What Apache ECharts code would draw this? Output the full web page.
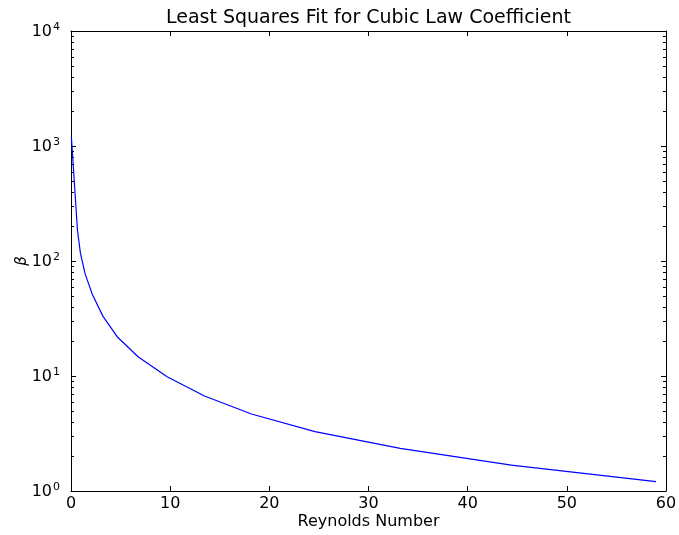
<!DOCTYPE html>
<html>
<head>
<meta charset="utf-8">
<script src="https://cdn.jsdelivr.net/npm/echarts@6/dist/echarts.min.js"></script>
<style>
  html, body { margin: 0; padding: 0; background: #fff; }
  #chart { width: 679px; height: 535px; }
</style>
</head>
<body>
<div id="chart"></div>
<script>
// Fitted cubic-law coefficient beta against Reynolds number
const reynolds = [0.04, 0.65, 0.95, 1.41, 2.12, 3.23, 4.71, 6.76, 9.69, 13.46, 18.2, 24.6, 33.2, 44.4, 59.0];
const beta     = [1191, 186, 117, 78, 52, 33, 21.7, 14.7, 9.86, 6.70, 4.67, 3.28, 2.35, 1.68, 1.205];

const xTicks = [0, 10, 20, 30, 40, 50, 60];
const yTicks = [1, 10, 100, 1000, 10000];
const yMinorTicks = [];
for (let d = 0; d < yTicks.length - 1; d++) {
  for (let m = 2; m <= 9; m++) yMinorTicks.push(m * yTicks[d]);
}

const titleText = 'Least Squares Fit for Cubic Law Coefficient';
const xName = 'Reynolds Number';
const yName = 'β';

const FONT = 'DejaVu Sans';
const chart = echarts.init(document.getElementById('chart'), null, { renderer: 'canvas' });

const grid = { left: 71, top: 31, right: 13, bottom: 44, containLabel: false, outerBoundsMode: 'none' };
const MAJOR = 5, MINOR = 3;

function frameAxisY(pos, extra) {
  return Object.assign({
    type: 'log', logBase: 10, min: 1, max: 10000, position: pos,
    axisLine: { show: true, onZero: false, lineStyle: { color: '#000', width: 1 } },
    axisTick: { show: true, inside: true, length: MAJOR, lineStyle: { color: '#000' }, customValues: yTicks },
    axisLabel: { show: false },
    splitLine: { show: false }
  }, extra);
}

const option = {
  animation: false,
  backgroundColor: '#fff',
  grid: grid,
  xAxis: [{
    type: 'value', min: 0, max: 60, interval: 10, position: 'bottom',
    name: xName, nameLocation: 'middle', nameGap: 23, nameMoveOverlap: false,
    nameTextStyle: { fontFamily: FONT, fontSize: 16, color: '#000' },
    axisLine: { show: true, onZero: false, lineStyle: { color: '#000', width: 1 } },
    axisTick: { show: true, inside: true, length: MAJOR, lineStyle: { color: '#000' }, customValues: xTicks },
    axisLabel: { show: true, margin: 5, fontFamily: FONT, fontSize: 16, color: '#000', customValues: xTicks },
    splitLine: { show: false }
  }, {
    type: 'value', min: 0, max: 60, interval: 10, position: 'top',
    axisLine: { show: true, onZero: false, lineStyle: { color: '#000', width: 1 } },
    axisTick: { show: true, inside: true, length: MAJOR, lineStyle: { color: '#000' }, customValues: xTicks },
    axisLabel: { show: false },
    splitLine: { show: false }
  }],
  yAxis: [
    frameAxisY('left', {
      name: yName, nameLocation: 'middle', nameGap: 41, nameMoveOverlap: false,
      nameTextStyle: { fontFamily: FONT, fontStyle: 'italic', fontSize: 15, color: '#000' },
      axisLabel: {
        show: true, margin: 11, customValues: yTicks,
        formatter: function (v) {
          return '{b|10}{s|' + Math.round(Math.log10(v)) + '}';
        },
        rich: {
          b: { fontFamily: FONT, fontSize: 16, color: '#000', verticalAlign: 'bottom', lineHeight: 18 },
          s: { fontFamily: FONT, fontSize: 11, color: '#000', verticalAlign: 'top', lineHeight: 18, padding: [0, 0, 0, 1] }
        }
      }
    }),
    frameAxisY('right', {})
  ],
  series: [{
    type: 'line',
    xAxisIndex: 0,
    yAxisIndex: 0,
    data: reynolds.map((r, i) => [r, beta[i]]),
    showSymbol: false,
    symbol: 'none',
    smooth: false,
    lineStyle: { color: '#0000ff', width: 1.2 },
    silent: true
  }]
};

chart.setOption(option);

// Title centred over the plotting area, and minor log ticks placed through the y scale
const xLeft = chart.convertToPixel({ xAxisIndex: 0 }, xTicks[0]);
const xRight = chart.convertToPixel({ xAxisIndex: 0 }, xTicks[xTicks.length - 1]);
const graphics = [{
  type: 'text',
  x: (xLeft + xRight) / 2,
  y: 18,
  style: {
    text: titleText,
    font: '19px "DejaVu Sans"',
    fill: '#000',
    align: 'center',
    verticalAlign: 'middle'
  },
  silent: true
}];
yMinorTicks.forEach(function (v) {
  const py = Math.round(chart.convertToPixel({ yAxisIndex: 0 }, v)) + 0.5;
  graphics.push({
    type: 'line', silent: true,
    shape: { x1: xLeft, y1: py, x2: xLeft + MINOR, y2: py },
    style: { stroke: '#000', lineWidth: 1 }
  });
  graphics.push({
    type: 'line', silent: true,
    shape: { x1: xRight - MINOR, y1: py, x2: xRight, y2: py },
    style: { stroke: '#000', lineWidth: 1 }
  });
});
chart.setOption({ graphic: graphics });
</script>
</body>
</html>
